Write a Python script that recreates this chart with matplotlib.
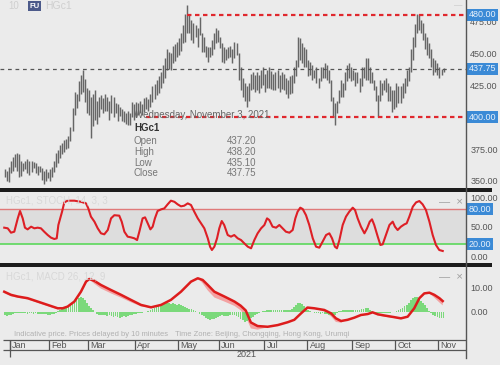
import matplotlib
matplotlib.use('Agg')
import matplotlib.pyplot as plt
import numpy as np
from matplotlib.lines import Line2D
from matplotlib.patches import Rectangle

plt.rcParams['font.family'] = ['Liberation Sans', 'DejaVu Sans']

# ---- price bars (HGc1 daily, index 0 = first trading day of Jan 2021) ----
lows = [
    353, 350, 349, 356, 358, 361, 358, 353, 354, 358, 359, 356, 355, 357, 360, 356, 355, 357, 351, 348, 350, 352,  # Dec/Jan
    350, 353, 357, 361, 364, 368, 371, 373, 375, 376, 381, 389, 402, 407, 413, 418, 420, 412, 403,  # Feb
    402, 384, 393, 398, 395, 400, 406, 403, 405, 405, 398, 403, 400, 403, 397, 401, 397, 396, 395, 394, 394, 400, 398,  # Mar
    400, 402, 403, 402, 404, 406, 405, 408, 412, 414, 417, 419, 423, 427, 431, 437, 438, 437, 442, 444, 447,  # Apr
    449, 452, 458, 459, 466, 466, 460, 458, 463, 455, 464, 451, 451, 447, 443, 447, 449, 453, 458, 459,  # May
    454, 443, 442, 445, 446, 447, 442, 446, 449, 429, 421, 416, 413, 408, 413, 421, 422, 420, 421, 419, 423, 425,  # Jun
    420, 423, 423, 422, 421, 421, 423, 420, 422, 421, 418, 415, 418, 419, 427, 432, 439, 445, 442, 439, 439,  # Jul
    432, 433, 429, 431, 427, 423, 428, 431, 431, 429, 427, 413, 400, 394, 403, 411, 416, 416, 421, 428, 431, 428,  # Aug
    429, 424, 427, 420, 424, 431, 429, 429, 427, 427, 421, 413, 400, 413, 417, 421, 420, 413, 413, 404, 406,  # Sep
    408, 411, 411, 415, 419, 424, 428, 435, 445, 455, 466, 468, 466, 460, 453, 449, 446, 439, 433, 435, 433,  # Oct
    431, 433, 435.1,  # Nov
]
highs = [
    359, 358, 361, 366, 369, 371, 372, 371, 366, 364, 366, 367, 366, 366, 365, 364, 362, 362, 360, 358, 359, 357,
    359, 361, 366, 372, 374, 378, 380, 382, 383, 385, 392, 407, 420, 418, 428, 433, 437, 430, 423,
    421, 416, 418, 421, 413, 416, 417, 415, 418, 416, 413, 417, 416, 411, 410, 408, 406, 405, 403, 405, 403, 412, 410,
    412, 411, 413, 410, 415, 416, 414, 418, 424, 426, 429, 432, 435, 441, 446, 453, 451, 450, 456, 457, 459,
    462, 466, 472, 481, 488, 480, 476, 474, 472, 470, 478, 466, 463, 456, 455, 455, 460, 466, 470, 468,
    463, 458, 455, 453, 455, 456, 453, 459, 458, 450, 439, 431, 427, 424, 427, 434, 435, 433, 435, 433, 437, 439,
    434, 437, 439, 436, 434, 435, 437, 433, 435, 434, 431, 429, 432, 433, 439, 445, 463, 462, 458, 455, 453,
    445, 443, 441, 437, 439, 431, 439, 439, 442, 441, 437, 429, 416, 411, 413, 421, 429, 427, 435, 441, 442, 439,
    437, 435, 435, 431, 439, 439, 446, 446, 439, 435, 429, 424, 417, 429, 427, 429, 431, 427, 424, 421, 421,
    427, 424, 424, 427, 431, 437, 439, 453, 463, 473, 481, 481, 476, 474, 466, 463, 458, 453, 446, 445, 442,
    439, 438, 438.2,
]
first_bar = -3

month_names = ['Jan', 'Feb', 'Mar', 'Apr', 'May', 'Jun', 'Jul', 'Aug', 'Sep', 'Oct', 'Nov']
month_starts = [0, 19, 38, 61, 82, 102, 124, 145, 167, 188, 209]

last_price = 437.75
resistance = 480.0
support = 400.0
resistance_from = 86
support_from = 66
price_ticks = [350, 375, 400, 425, 450, 475]

info_date = 'Wednesday, November 3, 2021'
info_labels = ['Open', 'High', 'Low', 'Close']
info_values = [437.20, 438.20, 435.10, 437.75]

# ---- stochastic ----
stoch_x = [-3.3, -1.6, 0, 1.6, 3.3, 4.4, 5.7, 6.8, 8.1, 9.8, 11.4, 13, 14.6, 16.2, 17.9, 19.5, 21.1, 22.3,
           23.1, 24.9, 26, 27.6, 30.9, 34.1, 36.6, 37.7, 39, 40.7, 42.3, 43.9, 45.5, 47.2, 48.8, 50.4, 52.8,
           54, 55.3, 56.9, 58.5, 60.2, 61.5, 62.6, 64.2, 65.4, 66.7, 68, 69.1, 70.2, 71.5, 73.2, 74.8, 76.4,
           78, 79.7, 81.3, 82.9, 84.5, 86.2, 87.8, 89.4, 91.1, 92.7, 94.3, 96, 97.1, 98, 99.2, 100.5, 101.6,
           102.8, 104, 105.7, 107.3, 108.9, 110.6, 112.2, 113.8, 115.5, 117.1, 118.7, 120.3, 122, 123.6,
           124.9, 126, 127.6, 129.3, 130.9, 132.5, 134.1, 135.8, 137.4, 138.7, 139.8, 141.1, 142.3, 143.9,
           145.5, 147.2, 148.8, 150.4, 152, 153.7, 155.3, 156.6, 158, 159, 160.2, 161.8, 163.4, 165, 166.7,
           167.8, 169.1, 170.7, 172.4, 173.7, 175, 176.1, 177.2, 178.9, 180.2, 181.3, 182.9, 184.6, 186.2,
           187.3, 188.6, 190.2, 191.9, 193, 194.3, 196, 197.6, 199.2, 200.8, 202.4, 204.1, 205.7, 207.3,
           208.9, 210.6]
stoch_k = [48.6, 47.5, 40, 41.7, 64.6, 77.2, 64.6, 48.6, 45.7, 50.3, 47.5, 48.6, 47.5, 41.7, 36, 31.5, 29.2, 30.3,
           53.2, 76, 92, 94.9, 94.9, 93, 90.3, 81.7, 67.5, 58.9, 47.5, 38.9, 37.2, 44.6, 64.6, 70, 69.2,
           58.9, 41.7, 33.2, 32, 30.3, 27.4, 41.7, 64.6, 66.3, 56, 45.7, 50.3, 64.6, 77.2, 80, 81.7, 88.6,
           94.9, 93, 88.6, 85.2, 86.3, 90.3, 87.5, 76, 64.6, 56, 47.5, 30.3, 16, 10.3, 16, 30.3, 47.5,
           60, 53.2, 36, 33.2, 36, 30.3, 27.4, 21.7, 16, 13.2, 27.4, 38.9, 47.5, 53.2,
           64.6, 61.7, 50.3, 48.6, 53.2, 47.5, 41.7, 40, 44.6, 64.6, 76, 82.9, 80.6, 70,
           53.2, 30.3, 16, 14.3, 24.6, 36, 38.9, 30.3, 16, 13.2, 27.4, 53.2, 67.5, 76, 82.9,
           79, 64.6, 50.3, 38.9, 47.5, 58.9, 62.9, 53.2, 33.2, 18.9, 20, 36, 53.2, 58.9,
           50.3, 44.6, 50.3, 54.3, 56, 67.5, 84.6, 92, 94.3, 88.6, 79, 58.9, 36, 18.9,
           10.3, 8.6]

# ---- MACD ----
macd_x = [-3.3, 0, 3.3, 8.1, 13, 17.9, 22.8, 25.2, 27.6, 30.9, 34.1, 36.6, 38.2, 40.7, 43.9, 48.8, 53.7, 58.5,
          63.4, 68.3, 73.2, 78, 82.9, 87.8, 91.1, 93.5, 96, 99.2, 104.1, 109, 112, 114.5, 117, 120.3, 125.2,
          130.1, 135, 138.2, 141.5, 144.6, 147.9, 152.8, 156.1, 158.5, 161, 164.2, 167.5, 170.7, 174, 176.4,
          178.9, 182.1, 187, 190.2, 193.5, 196.7, 199.2, 201.6, 204.1, 206.5, 209, 210.6]
macd_line = [8.3, 7, 6.3, 5.6, 4.2, 2.8, 1.4, 1.4, 2.1, 4.2, 8.3, 12.5, 13.6, 12.8, 11.1, 9, 7, 4.9,
             2.8, 1.8, 2.8, 4.9, 8.3, 12.5, 13.9, 13.2, 11.1, 8.3, 6.3, 4.2, 2.5, 0.5, -4.5, -6, -6.3,
             -5.6, -4.4, -3.4, -0.7, 1.7, 1.4, 0.7, -0.7, -2.8, -3.9, -3.4, -2.5, -1.4, -1, -0.3,
             -1.1, -1.6, -2.3, -2.8, -2.1, 1.4, 5.6, 7.6, 7.9, 7, 5.6, 4.4]
signal_line = [7.7, 6.4, 5.8, 5.1, 3.7, 2.3, 1.0, 1.9, 2.6, 4.7, 8.8, 13.0, 13.4, 11.6, 9.6, 7.6, 5.8, 3.9,
               2.2, 1.6, 3.3, 5.4, 8.8, 13.0, 13.9, 11.8, 8.8, 5.9, 4.2, 2.4, 0.6, -2.0, -7.0, -7.5, -6.5,
               -5.1, -3.9, -2.9, -0.2, 2.2, 1.3, 0.0, -2.0, -4.3, -4.6, -2.9, -2.0, -0.9, -0.5, -0.3,
               -1.6, -2.1, -2.7, -3.0, -1.6, 1.9, 6.1, 8.1, 7.6, 5.8, 3.8, 2.6]
macd_hist = [
    -1.5, -1.8, -1.6, -1.2, -0.8, -0.6,
    -0.4, -0.6, -0.5, -0.7, -0.6, -0.8, -0.6, -0.7, -0.9, -0.7, -0.8, -1.0, -0.9, -1.1, -1.0, -1.2, -1.3, -1.0, -0.8, -0.5,
    0.3, 0.8, 1.2, 1.6, 2.0, 2.4, 3.0, 3.8, 4.5, 5.2, 5.8, 6.3, 5.6, 4.8, 3.6, 2.5, 1.6, 0.7,
    -0.3, -0.8, -1.2, -1.5, -1.4, -1.6, -1.8, -1.5, -1.9, -2.2, -2.0, -2.4, -2.6, -2.3, -2.0, -2.2, -1.8, -1.5, -1.2,
    -1.0, -0.8, -0.6, -0.5, -0.4, -0.3, -0.2,
    0.4, 0.8, 1.2, 1.5, 1.9, 2.3, 2.6, 2.9, 3.2, 3.4, 3.5, 3.3, 3.5, 3.1, 2.8, 3.0, 2.6, 2.2, 1.8, 1.5, 1.3, 1.0, 0.6,
    0.2, -0.3,
    -0.8, -1.4, -2.0, -2.6, -3.0, -3.4, -3.2, -3.0, -2.6, -2.2, -1.9, -1.6, -1.8, -2.0, -1.7, -1.4, -1.2, -1.5, -1.8,
    -2.4, -3.0, -3.6, -4.2, -4.0, -3.5, -2.8,
    -2.2, -1.6, -1.0, -0.5, -0.2, 0.1, 0.3, 0.5, 0.6, 0.7, 0.6, 0.5, 0.7, 0.6, 0.5, 0.6, 0.8, 0.7, 0.6, 1.2, 2.0,
    2.8, 3.4, 3.6, 3.2, 2.4, 1.5, 0.6, 0.1, -0.2,
    -0.5, -0.6, -0.7, -0.8, -0.7, -0.8, -0.9, -1.2, -1.6, -2.0, -1.4, -0.6, 0.1, 0.4,
    0.6, 0.7, 0.6, 0.7, 0.8, 0.7, 0.8, 0.6, 0.7, 0.9, 1.2, 1.5, 1.4, 0.8, 0.2,
    -0.3, -0.5, -0.6, -0.5, -0.4, -0.5, -0.6, -0.5, -0.4, -0.3, -0.2, 0.2, 0.6, 1.0,
    1.6, 2.2, 2.9, 3.8, 4.8, 5.8, 6.3, 6.0, 5.2, 4.4, 3.6, 2.6, 1.4,
    0.3, -0.6, -1.2, -1.8, -2.2, -2.6, -2.8, -2.7,
]

BG = '#ebebeb'
fig = plt.figure(figsize=(5, 3.65), dpi=100, facecolor=BG)


def px_axes(x0, y0, x1, y1):
    return fig.add_axes([x0 / 500, 1 - y1 / 365, (x1 - x0) / 500, (y1 - y0) / 365])


def fy(py):
    return 1 - py / 365


XMIN, XMAX = -5.37, 221.95
ax = px_axes(0, 0, 466, 188)
axs = px_axes(0, 192, 466, 263)
axm = px_axes(0, 267, 466, 339)
axx = px_axes(0, 339, 466, 362)
for a in (ax, axs, axm, axx):
    a.set_facecolor(BG)
    a.set_xlim(XMIN, XMAX)
    a.set_xticks([])
    for s in a.spines.values():
        s.set_visible(False)
    a.yaxis.tick_right()
    a.tick_params(axis='y', length=0, pad=3, labelsize=6.5, labelcolor='#555555')
axx.set_yticks([])


def right_box(a, y, txt):
    a.text(1.006, y, txt, transform=a.get_yaxis_transform(), ha='left', va='center',
           fontsize=6.5, color='#e8f1fb', zorder=5,
           bbox=dict(boxstyle='square,pad=0.18', fc='#3b8ad6', ec='none'))


# ---- price panel ----
idx = np.arange(first_bar, first_bar + len(lows))
ax.vlines(idx, lows, highs, color='#666666', lw=1.05)
ax.set_ylim(344.5, 491.7)
ax.set_yticks(price_ticks)
ax.set_yticklabels([f'{v:.2f}' for v in price_ticks])
ax.axhline(last_price, color='#555555', lw=0.9, dashes=(3, 3))
ax.hlines([resistance], resistance_from, XMAX, color='#e0282e', lw=1.6, linestyles=(0, (2, 1.6)))
ax.hlines([support], support_from, XMAX, color='#e0282e', lw=1.6, linestyles=(0, (2, 1.6)))
right_box(ax, resistance, f'{resistance:.2f}')
right_box(ax, last_price, f'{last_price:.2f}')
right_box(ax, support, f'{support:.2f}')

fig.text(8 / 500, fy(6), '10', fontsize=7, color='#cfcfcf', va='center')
fig.text(34.5 / 500, fy(6), 'FU', fontsize=5.5, color='white', weight='bold', ha='center', va='center',
         bbox=dict(boxstyle='square,pad=0.25', fc='#4c5a8a', ec='none'))
fig.text(45 / 500, fy(6), 'HGc1', fontsize=7.5, color='#cfcfcf', va='center')
fig.text(458 / 500, fy(6), '—', fontsize=6, color='#c0c0c0', ha='center', va='center')

fig.text(134 / 500, fy(115), info_date, fontsize=7, color='#666666', va='center')
fig.text(134 / 500, fy(128), 'HGc1', fontsize=7, color='#333333', weight='bold', va='center')
for i, (lab, val) in enumerate(zip(info_labels, info_values)):
    yy = fy(141.5 + i * 10.5)
    fig.text(134 / 500, yy, lab, fontsize=7, color='#777777', va='center')
    fig.text(256 / 500, yy, f'{val:.2f}', fontsize=7, color='#777777', va='center', ha='right')

# ---- stochastic panel ----
axs.set_ylim(-12, 109.8)
axs.axhspan(20, 80, color='#dddddd', lw=0)
axs.axhline(80, color='#e07a7a', lw=1.0)
axs.axhline(20, color='#5cd85c', lw=1.2)
axs.plot(stoch_x, stoch_k, color='#dd1f26', lw=1.5, solid_joinstyle='round')
axs.set_yticks([100, 50, 0])
axs.set_yticklabels(['100.00', '50.00', '0.00'])
right_box(axs, 80, '80.00')
right_box(axs, 20, '20.00')
axs.text(0.012, 0.84, 'HGc1, STOCH, 14, 3, 3', transform=axs.transAxes, fontsize=7, color='#d8d8d8')
fig.text(451 / 500, fy(202), '—  ×', fontsize=8, color='#a0a0a0', ha='center', va='center')

# ---- MACD panel ----
axm.set_ylim(-11.4, 18.6)
mx = np.array(macd_x)
ml = np.array(macd_line)
sl = np.array(signal_line)
axm.fill_between(mx, sl, ml, where=sl < ml, interpolate=True, color='#f3a2a2', lw=0)
hidx = np.arange(first_bar, first_bar + len(macd_hist))
axm.bar(hidx, macd_hist, width=0.85, color='#6fd86f', lw=0, alpha=0.9)
axm.plot(mx, ml, color='#dd1c1c', lw=1.8, solid_joinstyle='round')
axm.set_yticks([10, 0])
axm.set_yticklabels(['10.00', '0.00'])
axm.text(0.012, 0.82, 'HGc1, MACD 26, 12, 9', transform=axm.transAxes, fontsize=7, color='#d8d8d8')
fig.text(451 / 500, fy(277), '—  ×', fontsize=8, color='#a0a0a0', ha='center', va='center')
fig.text(14 / 500, fy(335), 'Indicative price. Prices delayed by 10 minutes',
         fontsize=5.4, color='#b0b0b0', va='center')
fig.text(175 / 500, fy(335), 'Time Zone: Beijing, Chongqing, Hong Kong, Urumqi',
         fontsize=5.4, color='#b0b0b0', va='center')

# ---- time axis ----
axx.set_ylim(23, 0)
axx.hlines([1, 11], -3.9, XMAX, color='#555555', lw=0.9)
axx.vlines([s - 0.5 for s in month_starts], 1, 11, color='#555555', lw=0.9)
axx.vlines([-0.5], 1, 18, color='#555555', lw=0.9)
for name, s in zip(month_names, month_starts):
    axx.text(s + 0.6, 6.2, name, fontsize=6.5, color='#555555', va='center', ha='left')
axx.text(115, 15.5, '2021', fontsize=6.5, color='#555555', va='center', ha='center')

# panel separators and right axis line
for top in (188, 263):
    fig.add_artist(Rectangle((0, fy(top + 4)), 492 / 500, 4 / 365, transform=fig.transFigure,
                             color='#1c1c1c', lw=0))
fig.add_artist(Line2D([466 / 500, 466 / 500], [1, fy(358)], transform=fig.transFigure,
                      color='#555555', lw=1.0))

fig.savefig('out.png', dpi=100, facecolor=BG)
